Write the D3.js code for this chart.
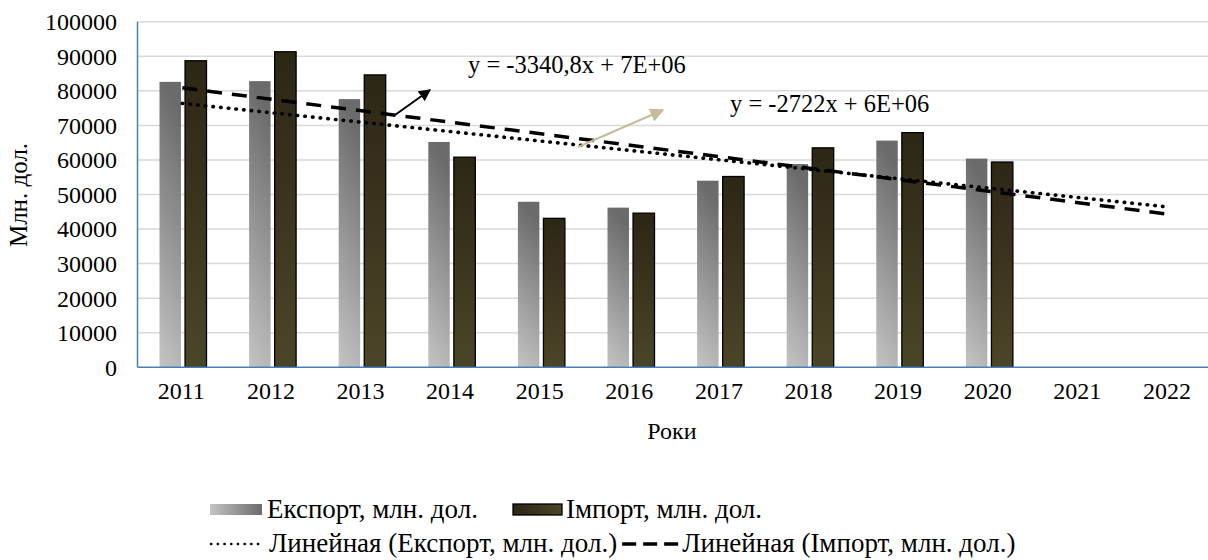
<!DOCTYPE html>
<html>
<head>
<meta charset="utf-8">
<script src="https://cdn.jsdelivr.net/npm/d3@7"></script>
<style>
  body { margin: 0; background: #fff; }
</style>
</head>
<body>
<div id="vis"></div>
<script>
const FRAME_WIDTH = 1208;
const FRAME_HEIGHT = 560;
const MARGINS = {left: 137.5, top: 21.7, bottom: 192.7};

// Data
const years = ['2011', '2012', '2013', '2014', '2015', '2016', '2017', '2018', '2019', '2020', '2021', '2022'];
const exportVals = [82600, 82800, 77600, 65200, 47900, 46200, 54000, 58800, 65600, 60400];
const importVals = [88700, 91300, 84600, 60800, 43100, 44600, 55200, 63500, 67900, 59400];
const yTicks = [0, 10000, 20000, 30000, 40000, 50000, 60000, 70000, 80000, 90000, 100000];
const seriesNames = ['Експорт, млн. дол.', 'Імпорт, млн. дол.'];
const trendNames = ['Линейная (Експорт, млн. дол.)', 'Линейная (Імпорт, млн. дол.)'];
const equations = ['y = -3340,8x + 7E+06', 'y = -2722x + 6E+06'];

const BAND = 89.6;
const VIS_HEIGHT = FRAME_HEIGHT - MARGINS.top - MARGINS.bottom;
const BOTTOM = MARGINS.top + VIS_HEIGHT;
const FONT = "'Liberation Serif'";

const FRAME = d3.select('#vis')
  .append('svg')
    .attr('width', FRAME_WIDTH)
    .attr('height', FRAME_HEIGHT);

// helper: serif text
function label(sel, x, y, txt, size) {
  return sel.append('text')
    .attr('x', x).attr('y', y)
    .attr('font-size', size)
    .style('font-family', FONT)
    .attr('fill', '#000')
    .text(txt);
}

// gradients
const defs = FRAME.append('defs');
const gExp = defs.append('linearGradient').attr('id', 'gExp')
  .attr('x1', 0).attr('y1', 1).attr('x2', 0.15).attr('y2', 0);
gExp.append('stop').attr('offset', '0%').attr('stop-color', '#c4c4c4');
gExp.append('stop').attr('offset', '100%').attr('stop-color', '#6b6b6b');
const gImp = defs.append('linearGradient').attr('id', 'gImp')
  .attr('x1', 0).attr('y1', 1).attr('x2', 0).attr('y2', 0);
gImp.append('stop').attr('offset', '0%').attr('stop-color', '#4b4528');
gImp.append('stop').attr('offset', '100%').attr('stop-color', '#2c2615');
const gExpL = defs.append('linearGradient').attr('id', 'gExpL')
  .attr('x1', 0).attr('y1', 0).attr('x2', 1).attr('y2', 0);
gExpL.append('stop').attr('offset', '0%').attr('stop-color', '#c4c4c4');
gExpL.append('stop').attr('offset', '100%').attr('stop-color', '#6b6b6b');
const gImpL = defs.append('linearGradient').attr('id', 'gImpL')
  .attr('x1', 0).attr('y1', 0).attr('x2', 1).attr('y2', 0);
gImpL.append('stop').attr('offset', '0%').attr('stop-color', '#2c2615');
gImpL.append('stop').attr('offset', '100%').attr('stop-color', '#4b4528');

// scales
const X_SCALE = d3.scaleBand()
  .domain(years)
  .range([MARGINS.left, MARGINS.left + BAND * years.length]);
const X_INNER = d3.scaleBand()
  .domain(['exp', 'imp'])
  .range([22, 69])
  .paddingInner(0.16);
const Y_SCALE = d3.scaleLinear()
  .domain([0, 100000])
  .range([BOTTOM, MARGINS.top]);

// gridlines
FRAME.append('g')
  .selectAll('line')
  .data(yTicks.slice(1))
  .enter()
  .append('line')
    .attr('x1', MARGINS.left)
    .attr('x2', FRAME_WIDTH)
    .attr('y1', (d) => Y_SCALE(d))
    .attr('y2', (d) => Y_SCALE(d))
    .attr('stroke', '#d9d9d9')
    .attr('stroke-width', 1.5);

// bars
FRAME.append('g')
  .selectAll('rect')
  .data(exportVals)
  .enter()
  .append('rect')
    .attr('x', (d, i) => X_SCALE(years[i]) + X_INNER('exp'))
    .attr('y', (d) => Y_SCALE(d))
    .attr('width', X_INNER.bandwidth())
    .attr('height', (d) => BOTTOM - Y_SCALE(d))
    .attr('fill', 'url(#gExp)');

FRAME.append('g')
  .selectAll('rect')
  .data(importVals)
  .enter()
  .append('rect')
    .attr('x', (d, i) => X_SCALE(years[i]) + X_INNER('imp'))
    .attr('y', (d) => Y_SCALE(d))
    .attr('width', X_INNER.bandwidth())
    .attr('height', (d) => BOTTOM - Y_SCALE(d))
    .attr('fill', 'url(#gImp)')
    .attr('stroke', '#000')
    .attr('stroke-width', 1.3);

// linear trends (least squares on x = 1..n, extended to all categories)
function trend(vals) {
  const xs = vals.map((d, i) => i + 1);
  const mx = d3.mean(xs), my = d3.mean(vals);
  const b = d3.sum(xs, (x, i) => (x - mx) * (vals[i] - my)) / d3.sum(xs, (x) => (x - mx) * (x - mx));
  const a = my - b * mx;
  return years.map((y, i) => ({year: y, v: a + b * (i + 1)}));
}
const center = (y) => X_SCALE(y) + X_SCALE.bandwidth() / 2;
const trendLine = d3.line().x((d) => center(d.year)).y((d) => Y_SCALE(d.v));

FRAME.append('path')
  .datum(trend(importVals))
  .attr('d', trendLine)
  .attr('fill', 'none')
  .attr('stroke', '#000')
  .attr('stroke-width', 3.5)
  .attr('stroke-dasharray', '15,10');

FRAME.append('path')
  .datum(trend(exportVals))
  .attr('d', trendLine)
  .attr('fill', 'none')
  .attr('stroke', '#000')
  .attr('stroke-width', 3.6)
  .attr('stroke-linecap', 'round')
  .attr('stroke-dasharray', '0.5,7.2');

// axes
FRAME.append('line')
  .attr('x1', MARGINS.left).attr('x2', MARGINS.left)
  .attr('y1', MARGINS.top).attr('y2', BOTTOM)
  .attr('stroke', '#4a7ebb').attr('stroke-width', 1.5);
FRAME.append('line')
  .attr('x1', MARGINS.left).attr('x2', FRAME_WIDTH)
  .attr('y1', BOTTOM).attr('y2', BOTTOM)
  .attr('stroke', '#4a7ebb').attr('stroke-width', 1.5);

const yAxisG = FRAME.append('g');
yTicks.forEach((t) => {
  label(yAxisG, 117, Y_SCALE(t), t, 24)
    .attr('dy', '0.35em')
    .attr('text-anchor', 'end');
});

const xAxisG = FRAME.append('g');
years.forEach((y) => {
  label(xAxisG, center(y) - 1, 399, y, 24)
    .attr('text-anchor', 'middle');
});

label(FRAME, 672, 439, 'Роки', 24).attr('text-anchor', 'middle');
label(FRAME, 0, 0, 'Млн. дол.', 25)
  .attr('transform', 'translate(27,195) rotate(-90)')
  .attr('text-anchor', 'middle');

// equation labels and arrows
defs.append('marker').attr('id', 'ahBlack')
  .attr('viewBox', '0 0 10 10').attr('refX', 9).attr('refY', 5)
  .attr('markerWidth', 6).attr('markerHeight', 6).attr('orient', 'auto')
  .append('path').attr('d', 'M0,0 L10,5 L0,10 z').attr('fill', '#000');
defs.append('marker').attr('id', 'ahTan')
  .attr('viewBox', '0 0 10 10').attr('refX', 9).attr('refY', 5)
  .attr('markerWidth', 7).attr('markerHeight', 7).attr('orient', 'auto')
  .append('path').attr('d', 'M0,0 L10,5 L0,10 z').attr('fill', '#c4bc9a');

FRAME.append('line')
  .attr('x1', 395).attr('y1', 115).attr('x2', 430).attr('y2', 90)
  .attr('stroke', '#000').attr('stroke-width', 2)
  .attr('marker-end', 'url(#ahBlack)');
FRAME.append('line')
  .attr('x1', 578).attr('y1', 147).attr('x2', 663).attr('y2', 110)
  .attr('stroke', '#c4bc9a').attr('stroke-width', 2)
  .attr('marker-end', 'url(#ahTan)');

label(FRAME, 468, 73, equations[0], 24.5);
label(FRAME, 730, 112, equations[1], 24.5);

// legend
const LFS = 27;
const legend = FRAME.append('g');
legend.append('rect')
  .attr('x', 210).attr('y', 504).attr('width', 52).attr('height', 11)
  .attr('fill', 'url(#gExpL)');
label(legend, 267, 518, seriesNames[0], LFS);
legend.append('rect')
  .attr('x', 513).attr('y', 504).attr('width', 49).attr('height', 11)
  .attr('fill', 'url(#gImpL)')
  .attr('stroke', '#000').attr('stroke-width', 1.3);
label(legend, 566, 518, seriesNames[1], LFS);

legend.append('line')
  .attr('x1', 211).attr('x2', 264).attr('y1', 544).attr('y2', 544)
  .attr('stroke', '#000').attr('stroke-width', 2.4)
  .attr('stroke-linecap', 'round').attr('stroke-dasharray', '0.3,6.4');
const t2a = label(legend, 269, 552, trendNames[0], LFS);
const dashX = 269 + t2a.node().getComputedTextLength() + 5;
legend.append('line')
  .attr('x1', dashX).attr('x2', dashX + 56).attr('y1', 544).attr('y2', 544)
  .attr('stroke', '#000').attr('stroke-width', 3.5)
  .attr('stroke-dasharray', '14,7');
label(legend, dashX + 60, 552, trendNames[1], LFS);
</script>
</body>
</html>
